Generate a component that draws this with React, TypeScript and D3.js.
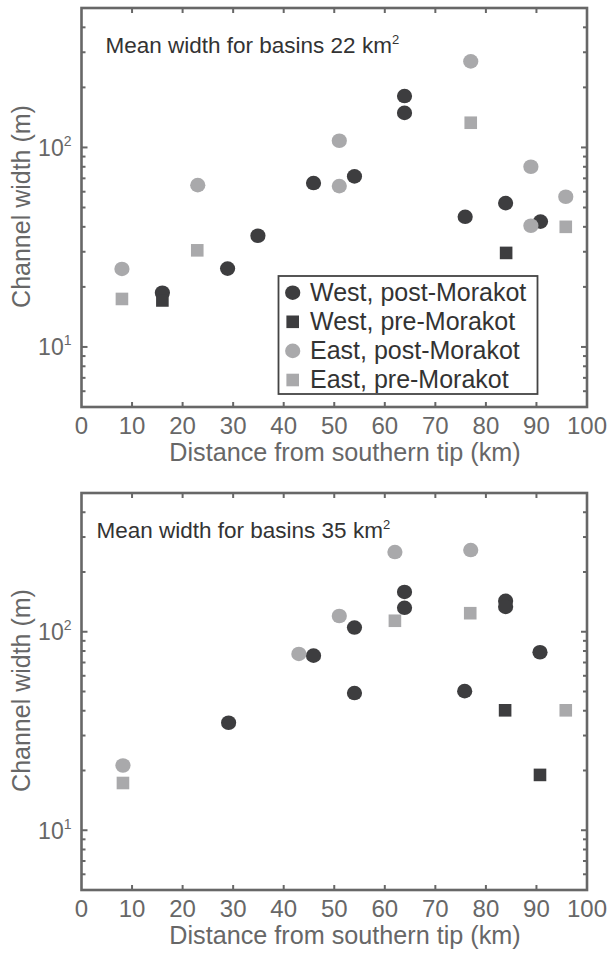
import React from 'react';
import * as d3 from 'd3';

// ---------- data ----------
const xTickValues = [0, 10, 20, 30, 40, 50, 60, 70, 80, 90, 100];
const yMajorTicks = [10, 100];
const seriesNames = ['West, post-Morakot', 'West, pre-Morakot', 'East, post-Morakot', 'East, pre-Morakot'];

// Panel A: basins 22 km2  [distance km, width m]
const a22WestPost: [number, number][] = [
  [16, 18.7], [28.9, 24.7], [34.9, 36.1], [45.9, 66.3], [54, 71.6],
  [63.9, 181], [63.9, 149], [75.9, 44.9], [83.9, 52.6], [90.8, 42.5],
];
const a22WestPre: [number, number][] = [[16, 17.1], [84, 29.6]];
const a22EastPost: [number, number][] = [
  [8, 24.6], [23, 64.7], [51, 108], [51, 64], [77, 270], [88.9, 80], [88.9, 40.5], [95.8, 56.6],
];
const a22EastPre: [number, number][] = [[8, 17.4], [22.9, 30.5], [77, 133], [95.8, 40]];

// Panel B: basins 35 km2
const b35WestPost: [number, number][] = [
  [29.1, 34.8], [45.9, 75.8], [54, 105], [54, 49.1], [63.9, 158.7],
  [63.9, 132], [75.8, 50.2], [83.9, 143], [83.9, 133.5], [90.7, 78.8],
];
const b35WestPre: [number, number][] = [[83.8, 40.2], [90.7, 19]];
const b35EastPost: [number, number][] = [[8.2, 21.2], [43, 77.3], [51, 120], [62, 252], [77, 258]];
const b35EastPre: [number, number][] = [[8.2, 17.3], [62, 113.6], [76.9, 124], [95.8, 40.2]];

const titles = ['Mean width for basins 22 km', 'Mean width for basins 35 km'];

// ---------- style ----------
const DARK = '#3d3d3f';
const LIGHT = '#a9a9ab';
const AXIS = '#676767';
const FONT = 'Liberation Sans, Arial, Helvetica, sans-serif';

const styles = [
  { color: DARK, shape: 'circle' },
  { color: DARK, shape: 'square' },
  { color: LIGHT, shape: 'circle' },
  { color: LIGHT, shape: 'square' },
];

function Marker({ x, y, color, shape }: { x: number; y: number; color: string; shape: string }) {
  if (shape === 'circle') return <ellipse cx={x} cy={y} rx={7.6} ry={7.3} fill={color} />;
  return <rect x={x - 6.3} y={y - 6.3} width={12.6} height={12.6} fill={color} />;
}

function Panel({ top, bottom, data, title, legend }: {
  top: number; bottom: number; data: [number, number][][]; title: string; legend: boolean;
}) {
  const left = 81.5, right = 587;
  const x = d3.scaleLinear().domain([0, 100]).range([left, right]);
  const y = d3.scaleLog().domain([5, 500]).range([bottom, top]);
  const minor: number[] = [];
  [1, 10, 100].forEach(d => { for (let k = 1; k <= 9; k++) { const v = k * d; if (v >= 5 && v <= 500) minor.push(v); } });
  const tl = 5;
  return (
    <g>
      {/* markers */}
      {data.map((s, i) => s.map((p, j) => (
        <Marker key={`${i}-${j}`} x={x(p[0])} y={y(p[1])} color={styles[i].color} shape={styles[i].shape} />
      )))}
      {/* ticks */}
      {xTickValues.slice(1, -1).map(t => (
        <g key={'xt' + t} stroke={AXIS} strokeWidth={2}>
          <line x1={x(t)} x2={x(t)} y1={bottom} y2={bottom - tl} />
          <line x1={x(t)} x2={x(t)} y1={top} y2={top + tl} />
        </g>
      ))}
      {minor.map(t => (
        <g key={'yt' + t} stroke={AXIS} strokeWidth={2}>
          <line x1={left} x2={left + (yMajorTicks.includes(t) ? tl + 1 : tl - 1)} y1={y(t)} y2={y(t)} />
          <line x1={right} x2={right - (yMajorTicks.includes(t) ? tl + 1 : tl - 1)} y1={y(t)} y2={y(t)} />
        </g>
      ))}
      <rect x={left} y={top} width={right - left} height={bottom - top} fill="none" stroke={AXIS} strokeWidth={2.6} />
      {/* tick labels */}
      {xTickValues.map(t => (
        <text key={'xl' + t} x={x(t)} y={bottom + 27} textAnchor="middle" fontSize={24} fill={AXIS} fontFamily={FONT}>{t}</text>
      ))}
      {yMajorTicks.map(t => (
        <text key={'yl' + t} x={left - 10} y={y(t) + 8.5} textAnchor="end" fontSize={23} fill={AXIS} fontFamily={FONT}>
          10<tspan fontSize={14} dy={-10}>{Math.round(Math.log10(t))}</tspan>
        </text>
      ))}
      <text x={345} y={bottom + 54} textAnchor="middle" fontSize={25.2} fill={AXIS} fontFamily={FONT}>
        Distance from southern tip (km)
      </text>
      <text transform={`translate(30,${(top + bottom) / 2 - 1}) rotate(-90)`} textAnchor="middle" fontSize={25} fill={AXIS} fontFamily={FONT}>
        Channel width (m)
      </text>
      <text x={legend ? left + 24 : left + 15} y={top + 45} fontSize={22.5} fill="#333" fontFamily={FONT}>
        {title}<tspan fontSize={13} dy={-9}>2</tspan>
      </text>
      {legend && (
        <g>
          <rect x={278.5} y={276} width={259} height={118} fill="#fff" stroke="#444" strokeWidth={1.8} />
          {seriesNames.map((n, i) => (
            <g key={n}>
              <Marker x={292.7} y={292.7 + i * 29.1} color={styles[i].color} shape={styles[i].shape} />
              <text x={310} y={292.7 + i * 29.1 + 8.3} fontSize={25} fill="#333" fontFamily={FONT}>{n}</text>
            </g>
          ))}
        </g>
      )}
    </g>
  );
}

export default function App() {
  return (
    <svg width={614} height={953} style={{ position: 'absolute', left: 0, top: 0, background: '#fff' }}>
      <Panel top={8} bottom={407} data={[a22WestPost, a22WestPre, a22EastPost, a22EastPre]} title={titles[0]} legend={true} />
      <Panel top={493} bottom={890} data={[b35WestPost, b35WestPre, b35EastPost, b35EastPre]} title={titles[1]} legend={false} />
    </svg>
  );
}
